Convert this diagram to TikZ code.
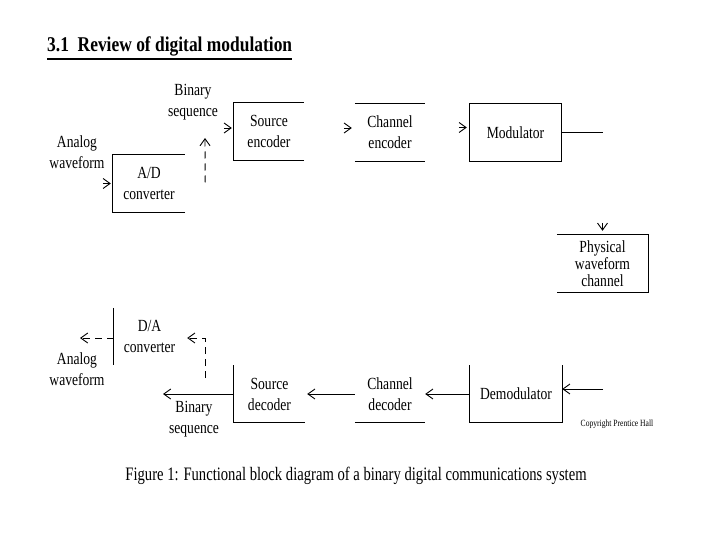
\documentclass[tikz,border=0pt]{standalone}
\usepackage{fontspec}
\setmainfont{Liberation Serif}[FakeStretch=0.8]
\newfontfamily\titlefont{Liberation Serif}[FakeStretch=0.83]
\newfontfamily\capfont{Liberation Serif}[FakeStretch=0.77]
\usetikzlibrary{arrows.meta,calc}
\newcommand\labfont{\fontsize{17}{21}\selectfont}
\begin{document}
\begin{tikzpicture}[x=1pt,y=-1pt,
  blk/.style={inner sep=0pt,minimum height=57pt,align=center,font=\labfont},
  txt/.style={inner sep=0pt,align=center,font=\labfont},
  edge/.style={line width=0.9pt},
  arr/.style={line width=0.9pt,-{Straight Barb[length=7pt,width=10pt,line width=0.9pt]}},
  dsh/.style={dash pattern=on 7pt off 5pt}]
\useasboundingbox (0,0) rectangle (720,540);
\fill[white] (0,0) rectangle (720,540);

% title
\node[anchor=base west,inner sep=0pt,font=\titlefont\bfseries\fontsize{21}{24}\selectfont] (title) at (47,52) {3.1\ \ Review of digital modulation};
\draw[line width=1.6pt] ($(title.base west)+(0,7)$) -- ($(title.base east)+(0,7)$);

% blocks
\node[blk,minimum width=72pt] (ad) at (149,183.5) {A/D\\converter};
\node[blk,minimum width=70pt] (se) at (269,131.5) {Source\\encoder};
\node[blk,minimum width=70pt] (ce) at (390,132.5) {Channel\\encoder};
\node[blk,minimum width=91pt] (mod) at (515.5,132.5) {Modulator};
\node[blk,minimum width=91pt,font=\fontsize{17}{17}\selectfont] (ch) at (602.5,263.5) {Physical\\waveform\\channel};
\node[blk,minimum width=71pt] (da) at (149.5,336.5) {D/A\\converter};
\node[blk,minimum width=71pt] (sd) at (269.5,394) {Source\\decoder};
\node[blk,minimum width=70pt] (cd) at (390,394) {Channel\\decoder};
\node[blk,minimum width=92pt] (dem) at (516,394) {Demodulator};

% visible block edges
\draw[edge] (ad.south east) -- (ad.south west) -- (ad.north west) -- (ad.north east);
\draw[edge] (se.south east) -- (se.south west) -- (se.north west) -- (se.north east);
\draw[edge] (ce.north west) -- (ce.north east) (ce.south west) -- (ce.south east);
\draw[edge] (mod.south west) rectangle (mod.north east);
\draw[edge] (ch.north west) -- (ch.north east) -- (ch.south east) -- (ch.south west);
\draw[edge] (da.north west) -- (da.south west);
\draw[edge] (sd.north west) -- (sd.south west) -- (sd.south east);
\draw[edge] (cd.south west) -- (cd.south east);
\draw[edge] (dem.north west) -- (dem.south west) -- (dem.south east) -- (dem.north east);

% labels
\node[txt] (aw1) at (77,152) {Analog\\waveform};
\node[txt] (bs1) at (193,102) {Binary\\sequence};
\node[txt] (aw2) at (77,369) {Analog\\waveform};
\node[txt] (bs2) at (194,419) {Binary\\sequence};
\node[inner sep=0pt,font=\fontsize{9.5}{10}\selectfont] (copy) at (617,424) {Copyright Prentice Hall};

% transmitter connectors
\draw[arr] ($(ad.west)+(-10,0)$) -- ($(ad.west)+(-2,0)$);
\coordinate (b1) at ($(ad.east)+(20,-1)$);
\coordinate (b2) at (205,138);
\draw[arr,dsh] (b1) -- (b2);
\draw[arr] ($(se.west)+(-10,-3.5)$) -- ($(se.west)+(-2,-3.5)$);
\draw[arr] ($(ce.west)+(-11,-4.5)$) -- ($(ce.west)+(-3,-4.5)$);
\draw[arr] ($(mod.west)+(-11,-5)$) -- ($(mod.west)+(-3,-5)$);
\draw[edge] (mod.east) -- (mod.east -| ch.north);
\draw[arr] ($(ch.north)+(0,-12)$) -- ($(ch.north)+(0,-4)$);

% receiver connectors
\coordinate (ri) at (603,389);
\draw[arr] (ri) -- (ri -| dem.east);
\draw[arr] (dem.west) -- (cd.east);
\draw[arr] (cd.west) -- ($(sd.east)+(2,0)$);
\coordinate (bo) at (163,394);
\draw[arr] (sd.west) -- (bo);
\coordinate (b3) at (205,378);
\draw[arr,dsh] (b3) |- ($(da.east)+(2,1.5)$);
\coordinate (ao) at (80,338);
\draw[arr,dsh] ($(da.west)+(0,1.5)$) -- (ao);

% caption
\node[anchor=base,inner sep=0pt,font=\capfont\fontsize{19}{22}\selectfont] (cap) at (356,480) {Figure 1: Functional block diagram of a binary digital communications system};
\end{tikzpicture}
\end{document}
